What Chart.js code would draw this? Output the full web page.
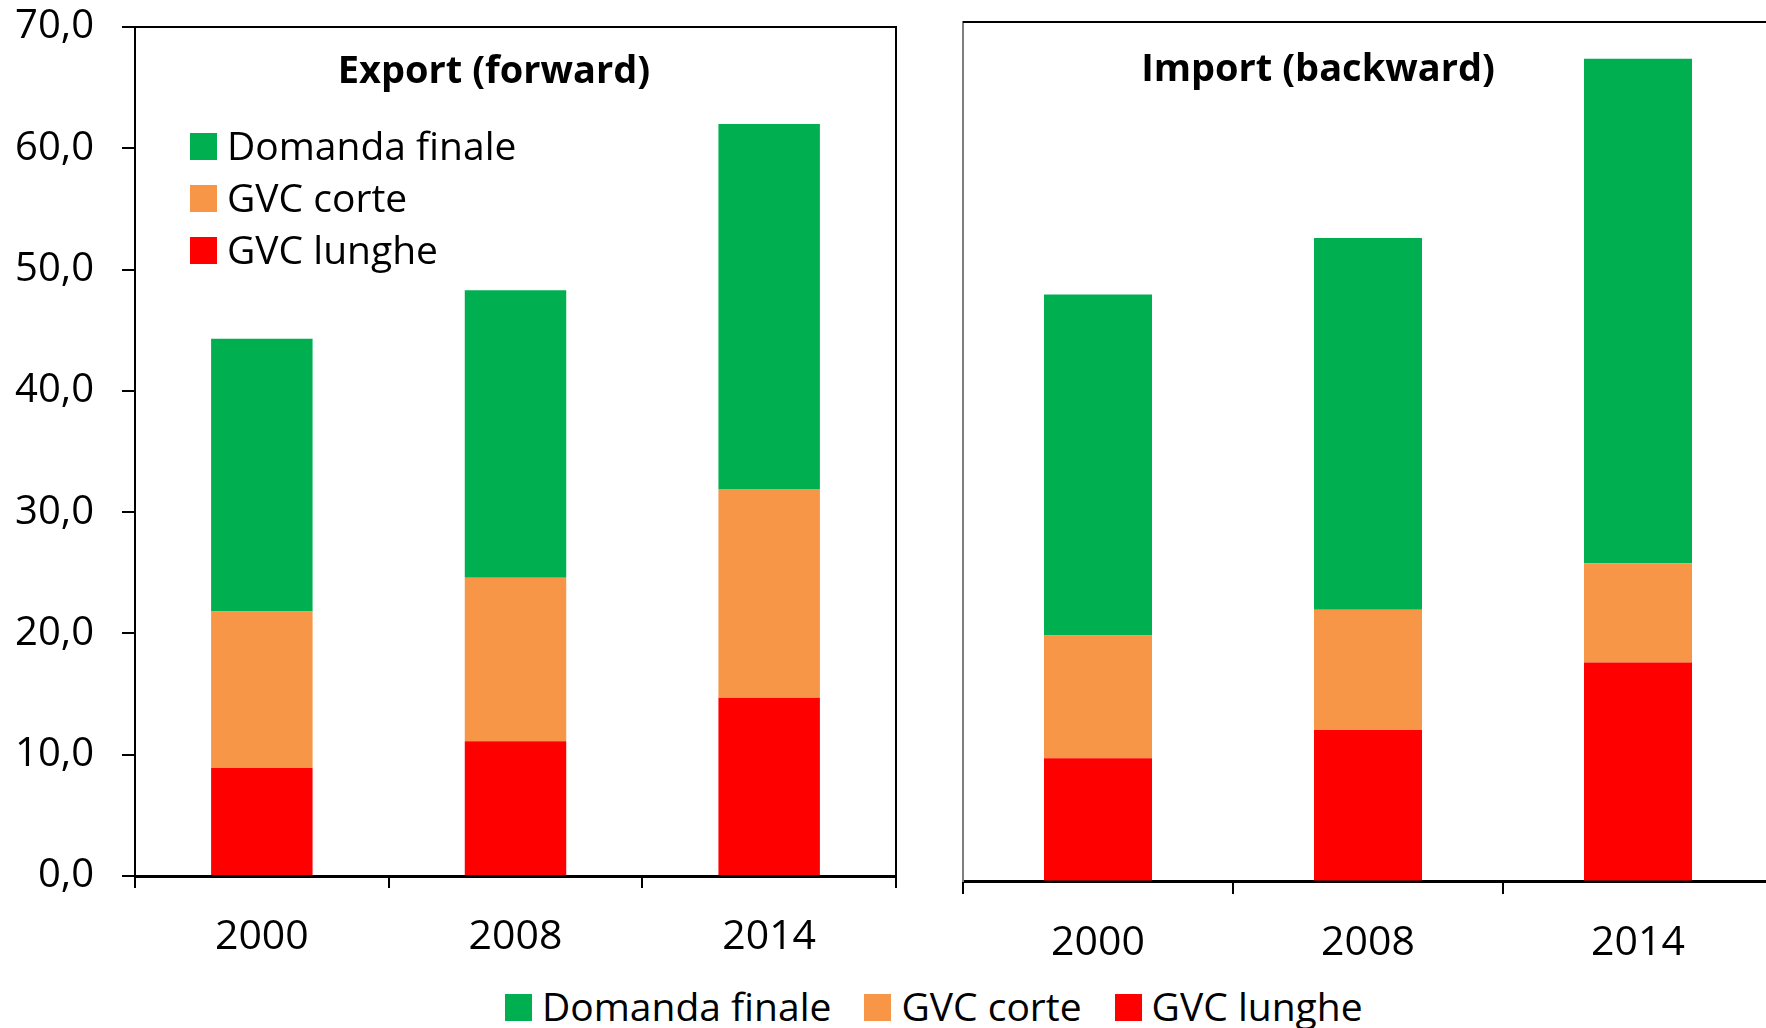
<!DOCTYPE html>
<html>
<head>
<meta charset="utf-8">
<title>Export / Import GVC</title>
<script src="https://cdn.jsdelivr.net/npm/chart.js@4.4.1/dist/chart.umd.min.js"></script>
<style>
  html, body { margin: 0; padding: 0; background: #fff; overflow: hidden; }
  #page { position: relative; width: 1766px; height: 1028px; overflow: hidden; font-family: 'Open Sans', sans-serif; }
  #exportWrap { position: absolute; left: 0; top: 0; width: 898px; height: 960px; }
  #importWrap { position: absolute; left: 900px; top: 0; width: 900px; height: 960px; }
  #bottomLegend { position: absolute; left: 505px; top: 986px; font-size: 39px; line-height: 39px; white-space: nowrap; color: #000; }
  #bottomLegend .sw { display: inline-block; width: 27px; height: 27px; margin-right: 10px; }
  #bottomLegend .item { margin-right: 33px; }
</style>
</head>
<body>
<div id="page">
  <div id="exportWrap"><canvas id="exportChart" width="898" height="960"></canvas></div>
  <div id="importWrap"><canvas id="importChart" width="900" height="960"></canvas></div>
  <div id="bottomLegend"></div>
</div>
<script>
// Data
const years = ['2000', '2008', '2014'];
const seriesNames = ['GVC lunghe', 'GVC corte', 'Domanda finale'];   // bottom -> top of stack
const seriesColors = ['#FF0000', '#F79646', '#00B050'];

const exportLunghe = [8.9, 11.1, 14.7];
const exportCorte = [12.9, 13.5, 17.2];
const exportFinale = [22.5, 23.7, 30.1];

const importLunghe = [10.0, 12.3, 17.8];
const importCorte = [10.0, 9.8, 8.1];
const importFinale = [27.8, 30.3, 41.1];

const yMin = 0;
const yMax = 70;
const yStep = 10;

Chart.defaults.font.family = "'Open Sans', sans-serif";
Chart.defaults.color = '#000';

// frame, panel title and (optionally) an in-plot legend
const panelDecor = {
    id: 'panelDecor',
    afterDraw(chart, args, opts) {
        const ctx = chart.ctx;
        const a = chart.chartArea;
        ctx.save();
        ctx.strokeStyle = '#000';
        ctx.lineWidth = 2;
        ctx.beginPath();
        ctx.moveTo(a.left, a.top);
        ctx.lineTo(a.right, a.top);
        ctx.lineTo(a.right, a.bottom);
        ctx.stroke();

        ctx.fillStyle = '#000';
        ctx.font = "bold 38px 'Open Sans'";
        ctx.textAlign = 'center';
        ctx.textBaseline = 'alphabetic';
        ctx.fillText(opts.title, a.left + opts.titleDx, a.top + opts.titleDy);

        if (opts.legend) {
            ctx.font = "39px 'Open Sans'";
            ctx.textAlign = 'left';
            chart.data.datasets.slice().reverse().forEach((ds, i) => {
                const y = a.top + opts.legend.dy + i * opts.legend.step;
                ctx.fillStyle = ds.backgroundColor;
                ctx.fillRect(a.left + opts.legend.dx, y, 27, 27);
                ctx.fillStyle = '#000';
                ctx.fillText(ds.label, a.left + opts.legend.dx + 37, y + 27);
            });
        }
        ctx.restore();
    }
};

function buildDatasets(lunghe, corte, finale) {
    return [lunghe, corte, finale].map((vals, i) => ({
        label: seriesNames[i],
        data: vals,
        backgroundColor: seriesColors[i],
        borderWidth: 0,
        barPercentage: 0.4,
        categoryPercentage: 1.0
    }));
}

const fmt = v => v.toFixed(1).replace('.', ',');

// Left panel: Export (forward)
new Chart(document.getElementById('exportChart'), {
    type: 'bar',
    data: { labels: years, datasets: buildDatasets(exportLunghe, exportCorte, exportFinale) },
    plugins: [panelDecor],
    options: {
        responsive: false,
        animation: false,
        layout: { padding: { top: 27, right: 2, left: 0, bottom: 0 } },
        plugins: {
            legend: { display: false },
            tooltip: { enabled: false },
            panelDecor: { title: 'Export (forward)', titleDx: 359, titleDy: 56, legend: { dx: 55, dy: 106, step: 52 } }
        },
        scales: {
            x: {
                stacked: true,
                grid: { offset: true, drawOnChartArea: false, drawTicks: true, tickLength: 12, color: '#000', lineWidth: 2 },
                border: { color: '#000', width: 3 },
                ticks: { font: { size: 41 }, color: '#000', padding: 25 },
                afterFit: s => { s.height = 84; s.paddingLeft = 0; s.paddingRight = 0; }
            },
            y: {
                stacked: true,
                min: yMin,
                max: yMax,
                grid: { drawOnChartArea: false, drawTicks: true, tickLength: 13, color: '#000', lineWidth: 2 },
                border: { color: '#000', width: 2 },
                ticks: { stepSize: yStep, font: { size: 40 }, color: '#000', padding: 28, callback: fmt },
                afterFit: s => { s.width = 135; s.paddingTop = 0; s.paddingBottom = 0; }
            }
        }
    }
});

// Right panel: Import (backward)
new Chart(document.getElementById('importChart'), {
    type: 'bar',
    data: { labels: years, datasets: buildDatasets(importLunghe, importCorte, importFinale) },
    plugins: [panelDecor],
    options: {
        responsive: false,
        animation: false,
        layout: { padding: { top: 22, right: 27, left: 0, bottom: 0 } },
        plugins: {
            legend: { display: false },
            tooltip: { enabled: false },
            panelDecor: { title: 'Import (backward)', titleDx: 355, titleDy: 59 }
        },
        scales: {
            x: {
                stacked: true,
                grid: { offset: true, drawOnChartArea: false, drawTicks: true, tickLength: 13, color: '#000', lineWidth: 2 },
                border: { color: '#000', width: 3 },
                ticks: { font: { size: 41 }, color: '#000', padding: 25 },
                afterFit: s => { s.height = 79; s.paddingLeft = 0; s.paddingRight = 0; }
            },
            y: {
                stacked: true,
                min: yMin,
                max: yMax,
                grid: { drawOnChartArea: false, drawTicks: false },
                border: { color: '#7f7f7f', width: 2 },
                ticks: { display: false, stepSize: yStep },
                afterFit: s => { s.width = 63; s.paddingTop = 0; s.paddingBottom = 0; }
            }
        }
    }
});

// Shared legend under both panels
const bottomLegend = document.getElementById('bottomLegend');
seriesNames.slice().reverse().forEach((name, i) => {
    const color = seriesColors[seriesNames.length - 1 - i];
    const item = document.createElement('span');
    item.className = 'item';
    item.innerHTML = `<span class="sw" style="background:${color}"></span>${name}`;
    bottomLegend.appendChild(item);
});
</script>
</body>
</html>
